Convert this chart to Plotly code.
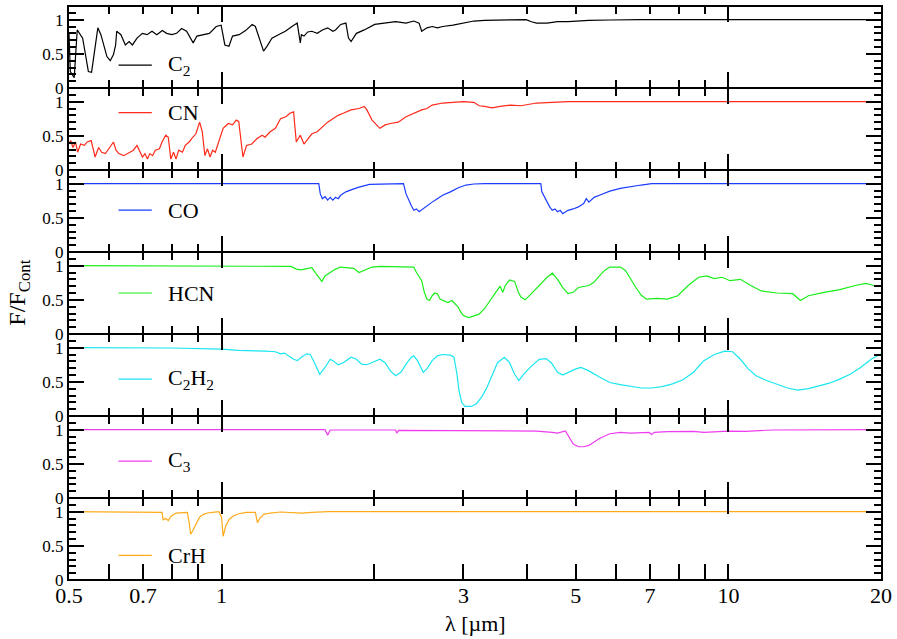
import plotly.graph_objects as go
from plotly.subplots import make_subplots

# ---------------- data (wavelength in micron, normalised flux) ----------------
wl_c2 = [0.500, 0.503, 0.512, 0.519, 0.532, 0.539, 0.546, 0.554, 0.562, 0.570, 0.578, 0.586, 0.594, 0.603,
         0.612, 0.618, 0.621, 0.633, 0.646, 0.657, 0.667, 0.681, 0.698, 0.713, 0.729, 0.745, 0.764, 0.779,
         0.798, 0.815, 0.834, 0.853, 0.879, 0.894, 0.918, 0.946, 0.976, 0.998, 1.015, 1.034, 1.051, 1.083,
         1.115, 1.149, 1.166, 1.182, 1.210, 1.229, 1.257, 1.295, 1.336, 1.377, 1.410, 1.430, 1.437, 1.454,
         1.479, 1.507, 1.544, 1.581, 1.619, 1.658, 1.678, 1.718, 1.759, 1.780, 1.801, 1.845, 1.912, 2.005,
         2.102, 2.205, 2.312, 2.395, 2.453, 2.482, 2.542, 2.603, 2.666, 2.730, 2.862, 3.000, 3.147, 3.301,
         3.716, 3.990, 4.086, 4.184, 4.388, 4.601, 4.825, 5.059, 5.305, 5.834, 6.726, 10.0, 20.0]
fx_c2 = [0.80, 0.24, 0.15, 0.85, 0.73, 0.49, 0.24, 0.23, 0.54, 0.88, 0.78, 0.63, 0.46, 0.40,
         0.49, 0.63, 0.83, 0.78, 0.63, 0.68, 0.63, 0.73, 0.80, 0.78, 0.83, 0.78, 0.84, 0.80,
         0.78, 0.80, 0.87, 0.83, 0.66, 0.76, 0.78, 0.80, 0.90, 0.92, 0.63, 0.61, 0.76, 0.78,
         0.84, 0.93, 0.90, 0.76, 0.54, 0.61, 0.73, 0.78, 0.83, 0.90, 0.95, 0.66, 0.78, 0.76,
         0.82, 0.83, 0.80, 0.85, 0.88, 0.83, 0.85, 0.93, 0.95, 0.73, 0.68, 0.80, 0.85, 0.93,
         0.95, 0.97, 0.95, 0.98, 0.95, 0.83, 0.88, 0.90, 0.88, 0.90, 0.92, 0.95, 0.98, 0.99,
         0.99, 1.00, 0.97, 0.95, 0.95, 0.97, 0.97, 0.98, 0.99, 0.995, 1.00, 1.00, 1.00]

wl_cn = [0.500, 0.504, 0.509, 0.515, 0.520, 0.527, 0.536, 0.543, 0.553, 0.563, 0.572, 0.580, 0.590, 0.600,
         0.612, 0.619, 0.627, 0.641, 0.657, 0.670, 0.681, 0.689, 0.698, 0.706, 0.714, 0.722, 0.731, 0.740,
         0.754, 0.763, 0.776, 0.785, 0.794, 0.804, 0.813, 0.823, 0.837, 0.848, 0.863, 0.873, 0.890, 0.905,
         0.916, 0.927, 0.938, 0.949, 0.960, 0.972, 0.988, 1.007, 1.031, 1.051, 1.069, 1.081, 1.102, 1.120,
         1.147, 1.175, 1.203, 1.218, 1.247, 1.277, 1.307, 1.339, 1.364, 1.387, 1.404, 1.430, 1.454, 1.479,
         1.507, 1.544, 1.581, 1.619, 1.658, 1.698, 1.738, 1.801, 1.867, 1.912, 1.935, 1.981, 2.053, 2.102,
         2.153, 2.231, 2.312, 2.395, 2.482, 2.542, 2.603, 2.730, 2.862, 3.000, 3.147, 3.222, 3.301, 3.420,
         3.544, 3.716, 3.896, 4.086, 4.184, 4.493, 4.825, 10.0, 20.0]
fx_cn = [0.38, 0.43, 0.33, 0.41, 0.26, 0.38, 0.36, 0.41, 0.43, 0.19, 0.33, 0.26, 0.24, 0.31,
         0.41, 0.29, 0.24, 0.21, 0.26, 0.29, 0.36, 0.29, 0.19, 0.24, 0.16, 0.24, 0.21, 0.29,
         0.31, 0.41, 0.51, 0.48, 0.16, 0.26, 0.16, 0.29, 0.26, 0.36, 0.41, 0.46, 0.53, 0.70,
         0.56, 0.21, 0.31, 0.19, 0.29, 0.26, 0.41, 0.61, 0.68, 0.66, 0.73, 0.71, 0.19, 0.36,
         0.38, 0.46, 0.51, 0.48, 0.56, 0.61, 0.75, 0.78, 0.83, 0.85, 0.41, 0.51, 0.38, 0.46,
         0.53, 0.56, 0.63, 0.70, 0.75, 0.80, 0.83, 0.88, 0.90, 0.93, 0.88, 0.73, 0.61, 0.66,
         0.68, 0.70, 0.78, 0.83, 0.88, 0.90, 0.95, 0.98, 0.99, 1.00, 0.99, 0.94, 0.93, 0.91,
         0.93, 0.95, 0.94, 0.96, 0.98, 0.99, 1.00, 1.00, 1.00]

wl_co = [0.500, 1.555, 1.566, 1.581, 1.600, 1.619, 1.638, 1.658, 1.678, 1.698, 1.718, 1.759, 1.801, 1.867,
         1.958, 2.053, 2.258, 2.285, 2.312, 2.339, 2.367, 2.395, 2.424, 2.453, 2.482, 2.542, 2.603, 2.666,
         2.730, 2.828, 2.931, 3.036, 3.147, 3.301, 4.264, 4.284, 4.336, 4.388, 4.440, 4.493, 4.547, 4.601,
         4.656, 4.711, 4.825, 4.940, 5.059, 5.181, 5.243, 5.305, 5.433, 5.565, 5.697, 5.834, 6.118, 6.414,
         6.726, 7.056, 20.0]
fx_co = [1.00, 1.00, 0.85, 0.78, 0.81, 0.76, 0.80, 0.76, 0.80, 0.78, 0.83, 0.88, 0.91, 0.95,
         0.99, 0.995, 1.00, 1.00, 0.85, 0.76, 0.68, 0.61, 0.63, 0.59, 0.62, 0.68, 0.73, 0.78,
         0.83, 0.88, 0.94, 0.98, 0.995, 1.00, 1.00, 0.88, 0.80, 0.73, 0.66, 0.61, 0.63, 0.59,
         0.61, 0.56, 0.61, 0.63, 0.66, 0.71, 0.78, 0.73, 0.80, 0.83, 0.86, 0.89, 0.93, 0.96,
         0.98, 1.00, 1.00]

wl_hcn = [0.500, 1.007, 1.371, 1.404, 1.437, 1.479, 1.507, 1.537, 1.577, 1.600, 1.638, 1.678, 1.718, 1.780,
          1.823, 1.867, 1.912, 1.981, 2.053, 2.153, 2.258, 2.395, 2.424, 2.482, 2.512, 2.542, 2.572, 2.603,
          2.634, 2.666, 2.698, 2.743, 2.795, 2.849, 2.896, 2.931, 2.965, 3.000, 3.073, 3.147, 3.222, 3.301,
          3.380, 3.461, 3.544, 3.587, 3.629, 3.699, 3.787, 3.851, 3.896, 3.971, 4.086, 4.234, 4.388, 4.493,
          4.601, 4.711, 4.825, 4.940, 5.059, 5.305, 5.433, 5.565, 5.697, 5.834, 6.118, 6.264, 6.414, 6.568,
          6.726, 6.888, 7.225, 7.576, 7.943, 8.330, 8.735, 9.052, 9.380, 9.717, 10.07, 10.56, 11.07, 11.61,
          12.47, 13.39, 13.87, 14.38, 15.44, 16.58, 17.80, 18.67, 19.35, 20.0]
fx_hcn = [1.00, 0.995, 0.99, 0.95, 0.94, 0.96, 0.97, 0.88, 0.77, 0.85, 0.90, 0.95, 0.98, 0.97,
          0.96, 0.90, 0.93, 0.98, 0.99, 0.985, 0.99, 0.98, 0.90, 0.78, 0.61, 0.51, 0.49, 0.56,
          0.60, 0.59, 0.51, 0.49, 0.46, 0.49, 0.44, 0.39, 0.32, 0.27, 0.24, 0.27, 0.29, 0.37,
          0.49, 0.59, 0.70, 0.61, 0.71, 0.79, 0.77, 0.61, 0.54, 0.50, 0.59, 0.71, 0.83, 0.89,
          0.80, 0.68, 0.59, 0.61, 0.68, 0.71, 0.76, 0.85, 0.93, 0.98, 0.98, 0.93, 0.80, 0.68,
          0.57, 0.51, 0.52, 0.51, 0.56, 0.71, 0.83, 0.85, 0.81, 0.83, 0.78, 0.80, 0.71, 0.63,
          0.60, 0.59, 0.49, 0.56, 0.61, 0.65, 0.71, 0.74, 0.71, 0.71]

wl_c2h2 = [0.500, 0.794, 1.000, 1.081, 1.218, 1.277, 1.307, 1.332, 1.355, 1.387, 1.411, 1.437, 1.472, 1.496,
           1.525, 1.562, 1.600, 1.638, 1.658, 1.698, 1.738, 1.801, 1.845, 1.889, 1.935, 1.981, 2.053, 2.102,
           2.153, 2.205, 2.258, 2.312, 2.367, 2.395, 2.435, 2.500, 2.542, 2.603, 2.666, 2.730, 2.828, 2.874,
           2.914, 2.941, 2.976, 3.021, 3.110, 3.184, 3.261, 3.340, 3.420, 3.503, 3.614, 3.699, 3.787, 3.859,
           3.943, 4.086, 4.234, 4.367, 4.472, 4.601, 4.711, 4.825, 5.000, 5.120, 5.305, 5.565, 5.834, 6.118,
           6.414, 6.726, 7.056, 7.398, 7.757, 8.135, 8.530, 8.944, 9.380, 9.835, 10.19, 10.56, 10.94, 11.34,
           11.89, 12.47, 13.08, 13.71, 14.38, 15.08, 15.81, 16.58, 17.39, 18.23, 19.12, 20.0]
fx_c2h2 = [1.00, 0.995, 0.98, 0.96, 0.95, 0.94, 0.91, 0.92, 0.88, 0.83, 0.81, 0.86, 0.91, 0.90,
           0.78, 0.61, 0.71, 0.83, 0.81, 0.75, 0.78, 0.86, 0.83, 0.76, 0.75, 0.78, 0.83, 0.78,
           0.66, 0.59, 0.64, 0.76, 0.86, 0.88, 0.81, 0.64, 0.69, 0.81, 0.88, 0.90, 0.89, 0.86,
           0.61, 0.37, 0.20, 0.14, 0.14, 0.18, 0.28, 0.42, 0.61, 0.78, 0.86, 0.78, 0.61, 0.52,
           0.61, 0.73, 0.83, 0.84, 0.78, 0.64, 0.60, 0.64, 0.69, 0.71, 0.66, 0.57, 0.49, 0.46,
           0.43, 0.41, 0.41, 0.43, 0.47, 0.53, 0.64, 0.81, 0.90, 0.95, 0.94, 0.83, 0.69, 0.59,
           0.52, 0.46, 0.41, 0.38, 0.40, 0.44, 0.48, 0.54, 0.61, 0.71, 0.83, 0.91]

wl_c3 = [0.500, 1.600, 1.619, 1.638, 2.205, 2.216, 2.236, 4.184, 4.493, 4.601, 4.768, 4.848, 4.940, 5.059,
         5.181, 5.305, 5.433, 5.565, 5.834, 6.118, 6.414, 6.726, 6.971, 7.056, 7.140, 7.576, 8.530, 8.944,
         9.605, 10.0, 10.81, 11.34, 12.18, 20.0]
fx_c3 = [1.00, 1.00, 0.92, 0.995, 0.995, 0.95, 0.99, 0.98, 0.96, 0.95, 0.98, 0.88, 0.79, 0.75,
         0.75, 0.77, 0.82, 0.87, 0.94, 0.96, 0.95, 0.95, 0.96, 0.93, 0.96, 0.97, 0.975, 0.96,
         0.97, 0.98, 0.975, 0.985, 0.995, 1.00]

wl_crh = [0.500, 0.758, 0.763, 0.767, 0.776, 0.785, 0.794, 0.813, 0.843, 0.856, 0.863, 0.869, 0.877, 0.890,
          0.905, 0.921, 0.938, 0.960, 0.988, 1.000, 1.007, 1.019, 1.036, 1.056, 1.081, 1.120, 1.166, 1.177,
          1.189, 1.211, 1.247, 1.307, 1.404, 1.437, 1.507, 1.619, 20.0]
fx_crh = [1.00, 1.00, 0.99, 0.88, 0.90, 0.87, 0.93, 0.98, 0.99, 0.99, 0.84, 0.67, 0.72, 0.82,
          0.92, 0.96, 0.98, 0.99, 1.00, 0.92, 0.64, 0.79, 0.89, 0.94, 0.97, 0.99, 0.99, 0.84,
          0.90, 0.96, 0.98, 0.995, 0.99, 0.98, 0.99, 1.00, 1.00]

species = ["C<sub>2</sub>", "CN", "CO", "HCN", "C<sub>2</sub>H<sub>2</sub>", "C<sub>3</sub>", "CrH"]
colors = ["#000000", "#ff2a1a", "#1a3cff", "#19ee19", "#19e6f0", "#f03cf0", "#ffaa19"]
wls = [wl_c2, wl_cn, wl_co, wl_hcn, wl_c2h2, wl_c3, wl_crh]
fxs = [fx_c2, fx_cn, fx_co, fx_hcn, fx_c2h2, fx_c3, fx_crh]
legend_pos = [0.28, 0.70, 0.51, 0.50, 0.45, 0.45, 0.30]   # vertical position of key within panel (domain)

x_major_labels = [0.5, 0.7, 1, 3, 5, 7, 10, 20]
x_unlabelled = [0.6, 0.8, 0.9, 2, 4, 6, 8, 9]
x_decades = [1, 10]
x_minor = [0.6, 0.7, 0.8, 0.9, 2, 3, 4, 5, 6, 7, 8, 9]
y_major = [0, 0.5, 1]
y_minor = [0.1, 0.2, 0.3, 0.4, 0.6, 0.7, 0.8, 0.9, 1.1]

FONT = "Liberation Serif"
n = len(species)

fig = make_subplots(rows=n, cols=1, shared_xaxes=True, vertical_spacing=0)

for i in range(n):
    fig.add_trace(go.Scatter(x=wls[i], y=fxs[i], mode="lines",
                             line=dict(color=colors[i], width=1.2),
                             showlegend=False, hoverinfo="skip"), row=i + 1, col=1)
    xr = "x" if i == 0 else f"x{i+1}"
    yr = "y" if i == 0 else f"y{i+1}"
    fig.add_shape(type="line", xref=f"{xr} domain", yref=f"{yr} domain",
                  x0=0.061, x1=0.102, y0=legend_pos[i], y1=legend_pos[i],
                  line=dict(color=colors[i], width=1.2))
    fig.add_annotation(xref=f"{xr} domain", yref=f"{yr} domain",
                       x=0.12, y=legend_pos[i], text=species[i], showarrow=False,
                       xanchor="left", yanchor="middle", font=dict(family=FONT, size=22, color="black"))

for i in range(n):
    fig.update_xaxes(type="log", range=[-0.30103, 1.30103], tickvals=x_decades,
                     showline=True, linecolor="black", linewidth=1.1, mirror="ticks",
                     ticks="inside", tickcolor="black", tickwidth=1.5, showgrid=False, zeroline=False,
                     ticklen=16, showticklabels=False,
                     minor=dict(tickvals=x_minor, ticks="inside", ticklen=8, tickwidth=1.5,
                                tickcolor="black", showgrid=False),
                     row=i + 1, col=1)
    fig.update_yaxes(range=[0, 1.2], tickvals=y_major, ticktext=["0", "0.5", "1"],
                     showline=True, linecolor="black", linewidth=2, mirror="ticks",
                     ticks="inside", tickcolor="black", tickwidth=1.5, showgrid=False, zeroline=False,
                     ticklen=15,
                     tickfont=dict(family=FONT, size=17, color="black"),
                     minor=dict(tickvals=y_minor, ticks="inside", ticklen=7, tickwidth=1.5,
                                tickcolor="black", showgrid=False),
                     row=i + 1, col=1)

# bottom axis with labels (overlaying the lowest panel)
fig.add_trace(go.Scatter(x=[], y=[], xaxis=f"x{n+1}", yaxis=f"y{n}", showlegend=False))
fig.update_layout(**{f"xaxis{n+1}": dict(
    type="log", range=[-0.30103, 1.30103], overlaying=f"x{n}", anchor=f"y{n}", side="bottom",
    tickvals=x_major_labels, ticktext=[str(v) for v in x_major_labels],
    ticks="inside", ticklen=16, tickwidth=1.5, tickcolor="black",
    minor=dict(tickvals=x_unlabelled, ticks="inside", ticklen=16, tickwidth=1.5,
               tickcolor="black", showgrid=False),
    showline=False, showgrid=False, zeroline=False,
    tickfont=dict(family=FONT, size=22, color="black"))})

# thicker outer frame at top and bottom
fig.add_shape(type="line", xref="paper", yref="paper", x0=0, x1=1, y0=1, y1=1,
              line=dict(color="black", width=2.2))
fig.add_shape(type="line", xref="paper", yref="paper", x0=0, x1=1, y0=0, y1=0,
              line=dict(color="black", width=2.2))

fig.add_annotation(xref="paper", yref="paper", x=0.5, y=-0.0765, text="λ [µm]", showarrow=False,
                   xanchor="center", yanchor="middle", font=dict(family=FONT, size=22, color="black"))
fig.add_annotation(xref="paper", yref="paper", x=-0.062, y=0.5, text="F/F<sub>Cont</sub>", showarrow=False,
                   textangle=-90, xanchor="center", yanchor="middle",
                   font=dict(family=FONT, size=24, color="black"))

fig.update_layout(width=897, height=639, margin=dict(l=69, r=14, t=5, b=59),
                  plot_bgcolor="white", paper_bgcolor="white", showlegend=False)

fig.write_html("out.html", config={"displayModeBar": False},
               post_script="document.body.style.margin='0px';")
